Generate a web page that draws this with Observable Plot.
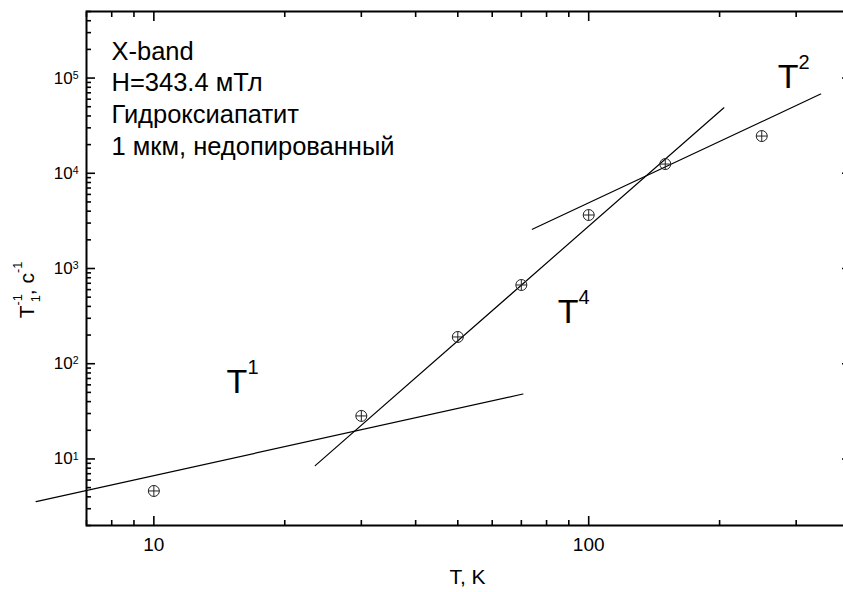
<!DOCTYPE html>
<html><head><meta charset="utf-8">
<script src="https://cdn.jsdelivr.net/npm/d3@7"></script>
<script src="https://cdn.jsdelivr.net/npm/@observablehq/plot@0.6"></script>
<style>html,body{margin:0;padding:0;background:#fff;overflow:hidden;}
#chart{width:843px;height:592px;overflow:hidden;}
#chart svg{display:block;}</style>
</head><body><div id="chart"></div>
<script>
// measured points: temperature (K) and relaxation rate 1/T1 (s^-1)
const temperature = [10, 30, 50, 70, 100, 150, 250];
const relaxRate = [4.61, 28.3, 191, 671, 3645, 12500, 24600];
// guide lines (end points)
const fit1T = [5.36, 70.6], fit1Rate = [3.56, 48.1];
const fit4T = [23.5, 204.6], fit4Rate = [8.51, 48700];
const fit2T = [74.2, 341.5], fit2Rate = [2580, 67900];
// slope labels
const slopeLabels = ["T^{1}", "T^{4}", "T^{2}"];
const slopeLabelT = [14.7, 84.9, 272];
const slopeLabelRate = [49.3, 268, 78500];
// info block
const infoLines = ["X-band", "H=343.4 мТл", "Гидроксиапатит", "1 мкм, недопированный"];
// ticks
const xMajor = [10, 100];
const xMinor = [7, 8, 9, 20, 30, 40, 50, 60, 70, 80, 90, 200, 300, 400];
const yMajor = [10, 100, 1000, 10000, 100000];
const yMinor = [2, 3, 4, 5, 6, 7, 8, 9, 20, 30, 40, 50, 60, 70, 80, 90,
  200, 300, 400, 500, 600, 700, 800, 900, 2000, 3000, 4000, 5000, 6000, 7000, 8000, 9000,
  20000, 30000, 40000, 50000, 60000, 70000, 80000, 90000, 200000, 300000, 400000, 500000];
const xTitle = "T, K";
const yTitle = "T^{-1}_{1}, c^{-1}";

const points = temperature.map((t, i) => ({T: t, rate: relaxRate[i]}));
const fitRows = [
  ...fit1T.map((t, i) => ({T: t, rate: fit1Rate[i], fit: "T1"})),
  ...fit4T.map((t, i) => ({T: t, rate: fit4Rate[i], fit: "T4"})),
  ...fit2T.map((t, i) => ({T: t, rate: fit2Rate[i], fit: "T2"}))
];
const slopeRows = slopeLabels.map((s, i) => ({label: s, T: slopeLabelT[i], rate: slopeLabelRate[i]}));

const circlePlus = {
  draw(context, size) {
    const r = Math.sqrt(size / Math.PI);
    context.moveTo(r, 0);
    context.arc(0, 0, r, 0, 2 * Math.PI);
    context.moveTo(-r, 0); context.lineTo(r, 0);
    context.moveTo(0, -r); context.lineTo(0, r);
  }
};

const font = "'Liberation Sans', Arial, Helvetica, sans-serif";
const tickW = 1.6;
const plot = Plot.plot({
  width: 852, height: 592,
  marginLeft: 86, marginRight: 2, marginTop: 11, marginBottom: 67,
  style: {fontFamily: font, background: "white", color: "black", overflow: "hidden"},
  x: {type: "log", domain: [7, 400], axis: null},
  y: {type: "log", domain: [2, 5e5], axis: null},
  marks: [
    Plot.line(fitRows, {x: "T", y: "rate", z: "fit", stroke: "black", strokeWidth: 1.2}),
    Plot.dot(points, {x: "T", y: "rate", r: 5.5, symbol: circlePlus, stroke: "#222", fill: "none", strokeWidth: 1}),
    Plot.axisX(xMajor, {anchor: "bottom", tickSize: -9, fill: "none", label: null, strokeWidth: tickW}),
    Plot.axisX(xMinor, {anchor: "bottom", tickSize: -5, fill: "none", label: null, strokeWidth: tickW}),
    Plot.axisX(xMajor, {anchor: "top", tickSize: -9, fill: "none", label: null, strokeWidth: tickW}),
    Plot.axisX(xMinor, {anchor: "top", tickSize: -5, fill: "none", label: null, strokeWidth: tickW}),
    Plot.axisY(yMajor, {anchor: "left", tickSize: -9, fill: "none", label: null, strokeWidth: tickW}),
    Plot.axisY(yMinor, {anchor: "left", tickSize: -5, fill: "none", label: null, strokeWidth: tickW}),
    Plot.axisY(yMajor, {anchor: "right", tickSize: -9, fill: "none", label: null, strokeWidth: tickW}),
    Plot.axisY(yMinor, {anchor: "right", tickSize: -5, fill: "none", label: null, strokeWidth: tickW}),
    Plot.axisX(xMajor, {anchor: "bottom", tickSize: 0, tickPadding: 11.5, fontSize: 19, tickFormat: d => String(d), label: null}),
    Plot.axisY(yMajor, {anchor: "left", tickSize: 0, tickPadding: 8, fontSize: 17, tickFormat: d => `10^{${Math.round(Math.log10(d))}}`, label: null}),
    Plot.frame({stroke: "black", strokeWidth: 2}),
    Plot.text([infoLines.join("\n")], {frameAnchor: "top-left", text: d => d, dx: 25, dy: 143.1, lineAnchor: "bottom", textAnchor: "start", fontSize: 25.5, lineHeight: 1.239}),
    Plot.text(slopeRows, {x: "T", y: "rate", text: "label", textAnchor: "start", lineAnchor: "bottom", fontSize: 34}),
    Plot.text([xTitle], {frameAnchor: "bottom", text: d => d, textAnchor: "middle", dx: -1, dy: 58, lineAnchor: "bottom", fontSize: 21}),
    Plot.text([yTitle], {frameAnchor: "left", text: d => d, textAnchor: "middle", rotate: -90, dx: -53, dy: 22, lineAnchor: "bottom", fontSize: 21})
  ]
});
// show only the visible 843px of the drawing; the right frame edge lies just past it
plot.setAttribute("width", 843);
plot.setAttribute("viewBox", "0 0 843 592");
document.getElementById("chart").appendChild(plot);

// turn ^{..} and _{..} markup into real superscript / subscript tspans
function richify(svg) {
  svg.querySelectorAll("text").forEach(t => {
    if (t.querySelector("tspan")) return;
    const s = t.textContent;
    if (!/[\^_]\{/.test(s)) return;
    const fs = parseFloat(getComputedStyle(t).fontSize);
    let scale = 0.6, rise = 0.55, drop = 0.3;
    if (s.startsWith("10^")) { scale = 0.62; rise = 0.28; }
    else if (/^T\^\{\d\}$/.test(s)) { scale = 0.59; rise = 0.56; }
    const re = /([\^_])\{([^}]*)\}|([^\^_]+)/g;
    const toks = [];
    let m;
    while ((m = re.exec(s))) {
      if (m[3] !== undefined) toks.push({type: "n", text: m[3]});
      else toks.push({type: m[1] === "^" ? "sup" : "sub", text: m[2]});
    }
    t.textContent = "";
    let cur = 0;
    toks.forEach((tok, i) => {
      const sp = document.createElementNS("http://www.w3.org/2000/svg", "tspan");
      const target = tok.type === "sup" ? -rise * fs : tok.type === "sub" ? drop * fs : 0;
      if (target - cur) sp.setAttribute("dy", target - cur);
      cur = target;
      if (tok.type !== "n") sp.setAttribute("font-size", (scale * fs).toFixed(2));
      if (tok.type === "sub" && i > 0 && toks[i - 1].type === "sup") {
        sp.setAttribute("dx", (-0.556 * scale * fs).toFixed(2));
      }
      sp.textContent = tok.text;
      t.appendChild(sp);
    });
    if (s === yTitle) t.setAttribute("data-ytitle", "1");
  });
}
richify(plot);

// centre the rotated axis title on its intended point (x baseline ~33, y centre ~290)
const yt = plot.querySelector("text[data-ytitle]");
if (yt) {
  const sb = plot.getBoundingClientRect();
  const b = yt.getBoundingClientRect();
  const cy = (b.top + b.bottom) / 2 - sb.top;
  const shift = 290 - cy;
  yt.setAttribute("transform", `translate(0,${shift.toFixed(1)}) ` + (yt.getAttribute("transform") || ""));
}
</script>
</body></html>
